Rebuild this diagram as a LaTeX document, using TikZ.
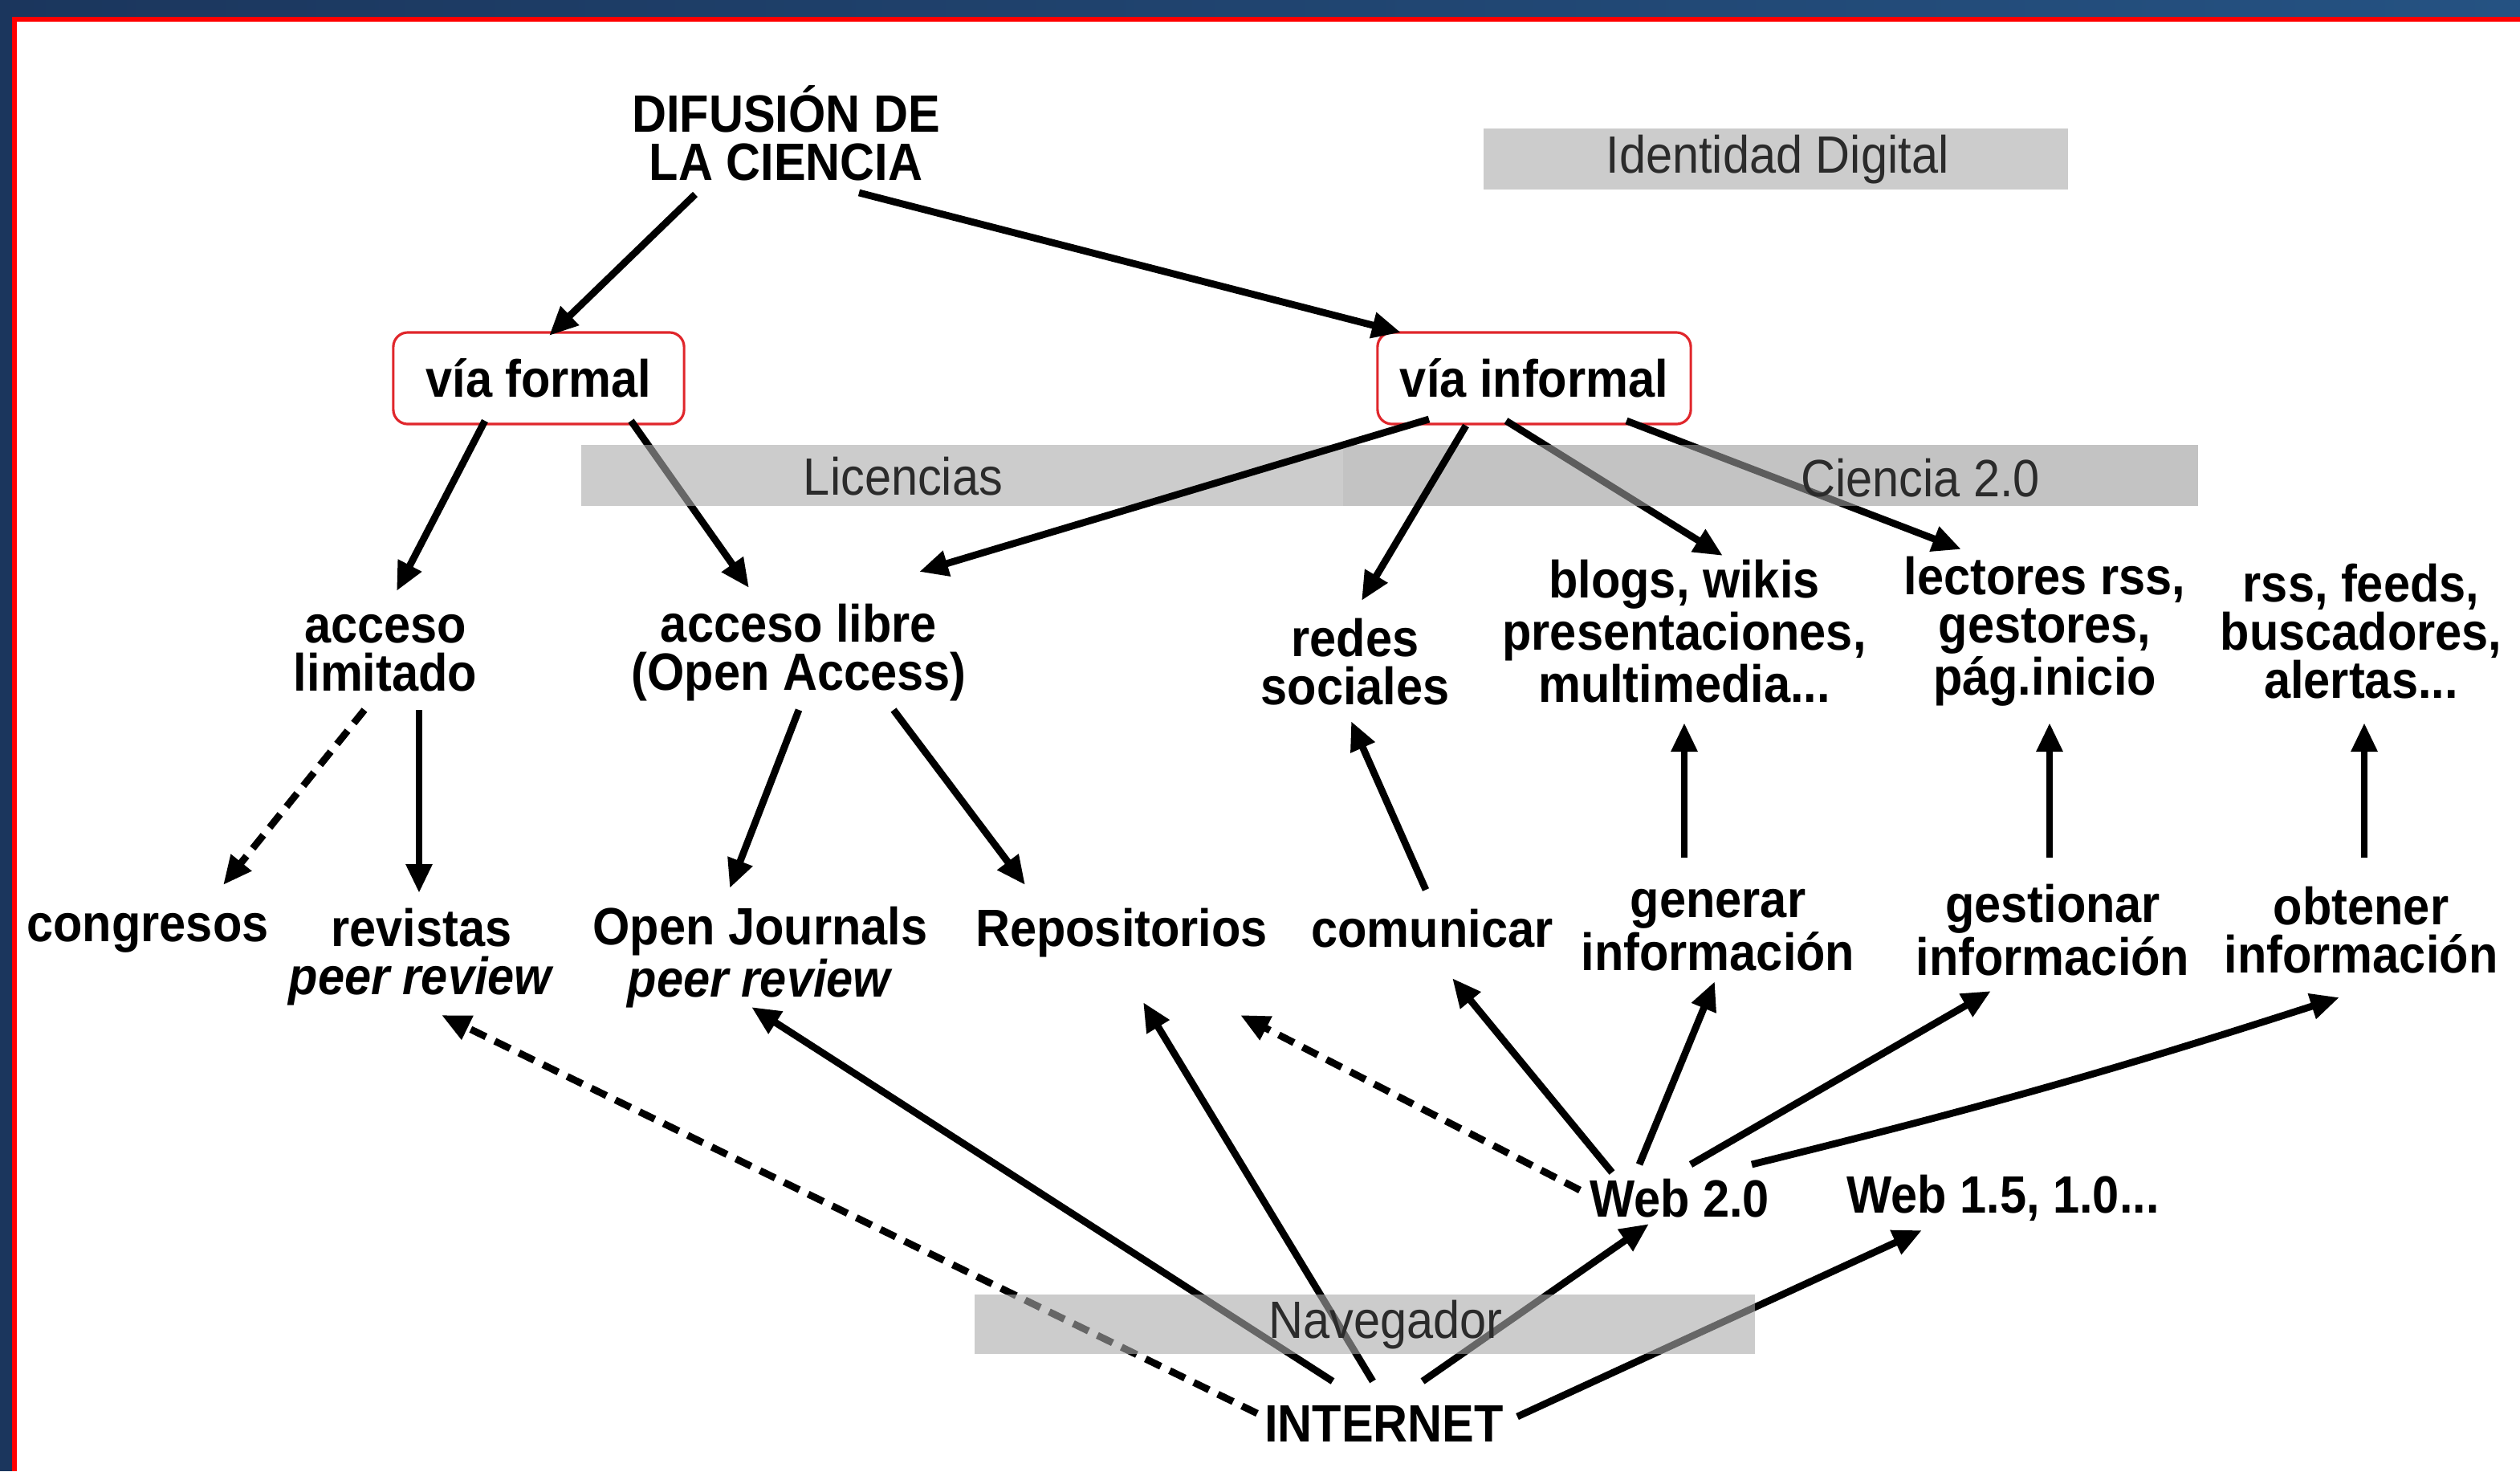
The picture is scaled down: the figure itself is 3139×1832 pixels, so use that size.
\documentclass[tikz,border=0pt]{standalone}
\usepackage{fontspec}
\setmainfont{Liberation Sans}[FakeStretch=0.91]
\usetikzlibrary{arrows.meta,calc}
\definecolor{navyL}{HTML}{1B365D}
\definecolor{navyR}{HTML}{255282}
\definecolor{frred}{HTML}{FF0000}
\definecolor{bandAc}{RGB}{170,170,170}
\definecolor{bandBc}{RGB}{155,155,155}
\definecolor{bandtxt}{HTML}{2B2B2B}
\definecolor{boxred}{HTML}{E0262B}
\begin{document}
\begin{tikzpicture}[x={(0.01cm,0)}, y={(0,-0.01cm)},
  lbl/.style={align=center, inner sep=0pt, font=\fontsize{18.6}{17.07}\selectfont\bfseries},
  bandlbl/.style={inner sep=0pt, text=bandtxt, font=\fontsize{18.6}{17.07}\selectfont},
  vbox/.style={draw=boxred, line width=0.9pt, rounded corners=0.18cm, minimum height=1.14cm, inner sep=0pt, fill=white, font=\fontsize{18.6}{17.07}\selectfont\bfseries},
  arr/.style={line width=2.5pt, -{Triangle[length=0.36cm,width=0.31cm]}},
  dsh/.style={arr, dash pattern=on 6pt off 3.5pt},
  bandA/.style={fill=bandAc, fill opacity=0.6},
  bandB/.style={fill=bandBc, fill opacity=0.6},
]
\useasboundingbox (0,0) rectangle (3139,1832);
\fill[white] (0,0) rectangle (3139,1832);
% frame
\fill[left color=navyL, right color=navyR] (0,0) rectangle (3139,21);
\fill[navyL] (0,0) rectangle (15,1832);
\fill[frred] (15,21) rectangle (3139,27);
\fill[frred] (15,21) rectangle (21,1832);

% nodes
\node[lbl] (dif) at (979,166) {DIFUSIÓN DE\\LA CIENCIA};
\node[vbox, minimum width=3.62cm] (formal) at (671,471) {vía formal};
\node[vbox, minimum width=3.90cm] (informal) at (1911,471) {vía informal};
\node[lbl] (acclim) at (480,813) {acceso\\limitado};
\node[lbl] (acclib) at (995,813) {acceso libre\\(Open Access)};
\node[lbl] (redes) at (1688,824) {redes\\sociales};
\node[lbl] (blogs) at (2098,786) {blogs, wikis\\presentaciones,\\multimedia...};
\node[lbl] (lect) at (2547,786) {lectores rss,\\gestores,\\pág.inicio};
\node[lbl] (rss) at (2941,786) {rss, feeds,\\buscadores,\\alertas...};
\node[lbl] (cong) at (184,1162) {congresos};
\node[lbl] (revis) at (525,1192) {revistas\\\textit{peer review}};
\node[lbl] (openj) at (947,1192) {Open Journals\\\textit{peer review}};
\node[lbl] (repos) at (1397,1162) {Repositorios};
\node[lbl] (comun) at (1784,1156) {comunicar};
\node[lbl] (gener) at (2140,1158) {generar\\información};
\node[lbl] (gesti) at (2557,1158) {gestionar\\información};
\node[lbl] (obten) at (2941,1158) {obtener\\información};
\node[lbl] (webtwo) at (2092,1492) {Web 2.0};
\node[lbl] (webone) at (2495,1492) {Web 1.5, 1.0...};
\node[lbl] (inet) at (1724,1773) {INTERNET};

% connectors under the bands
\draw[arr] ($(dif)+(-113,76)$) -- ($(formal)+(13,-53)$);
\draw[arr] ($(dif)+(91,74)$) -- ($(informal)+(-166,-57)$);
\draw[arr] ($(formal)+(-67,53)$) -- ($(acclim)+(14,-77)$);
\draw[arr] ($(formal)+(115,53)$) -- ($(acclib)+(-62,-81)$);
\draw[arr] ($(informal)+(-35,53)$) -- ($(blogs)+(48,-94)$);
\draw[arr] ($(informal)+(115,53)$) -- ($(lect)+(-104,-102)$);
\draw[dsh] ($(acclim)+(-26,71)$) -- ($(cong)+(94,-60)$);
\draw[arr] ($(acclim)+(42,71)$) -- ($(revis)+(-3,-80)$);
\draw[arr] ($(acclib)+(0,71)$) -- ($(openj)+(-38,-86)$);
\draw[arr] ($(acclib)+(118,71)$) -- ($(repos)+(-120,-60)$);
\draw[arr] ($(comun)+(-8,-48)$) -- ($(redes)+(-5,74)$);
\draw[arr] ($(gener)+(-42,-90)$) -- ($(blogs)+(0,114)$);
\draw[arr] ($(gesti)+(-4,-90)$) -- ($(lect)+(6,114)$);
\draw[arr] ($(obten)+(4,-90)$) -- ($(rss)+(4,114)$);
\draw[dsh] ($(webtwo)+(-124,-10)$) -- ($(repos)+(148,102)$);
\draw[arr] ($(webtwo)+(-84,-32)$) -- ($(comun)+(25,62)$);
\draw[arr] ($(webtwo)+(-50,-42)$) -- ($(gener)+(-4,64)$);
\draw[arr] ($(webtwo)+(14,-42)$) -- ($(gesti)+(-77,76)$);
\draw[arr] ($(webtwo)+(90,-42)$) to[bend right=2] ($(obten)+(-27,84)$);
\draw[dsh] ($(inet)+(-158,-13)$) -- ($(revis)+(25,72)$);
\draw[arr] ($(inet)+(-64,-53)$) -- ($(openj)+(-11,62)$);
\draw[arr] ($(inet)+(-14,-53)$) -- ($(repos)+(27,86)$);
\draw[arr] ($(inet)+(48,-53)$) -- ($(webtwo)+(-38,32)$);
\draw[arr] ($(inet)+(166,-9)$) -- ($(webone)+(-101,40)$);

% translucent bands
\fill[bandA] (1848,160) rectangle (2576,236);
\fill[bandA] (724,554) rectangle (1673,630);
\fill[bandB] (1673,554) rectangle (2738,630);
\fill[bandA] (1214,1612) rectangle (2186,1686);
\node[bandlbl] (tident) at (2214,199) {Identidad Digital};
\node[bandlbl] (tlic) at (1125,593) {Licencias};
\node[bandlbl] (tcien) at (2392,595) {Ciencia 2.0};
\node[bandlbl] (tnav) at (1726,1650) {Navegador};

% connectors over the bands
\draw[arr] ($(informal)+(-131,51)$) -- ($(acclib)+(150,-101)$);
\draw[arr] ($(informal)+(-85,59)$) -- ($(redes)+(8,-76)$);
\end{tikzpicture}
\end{document}
